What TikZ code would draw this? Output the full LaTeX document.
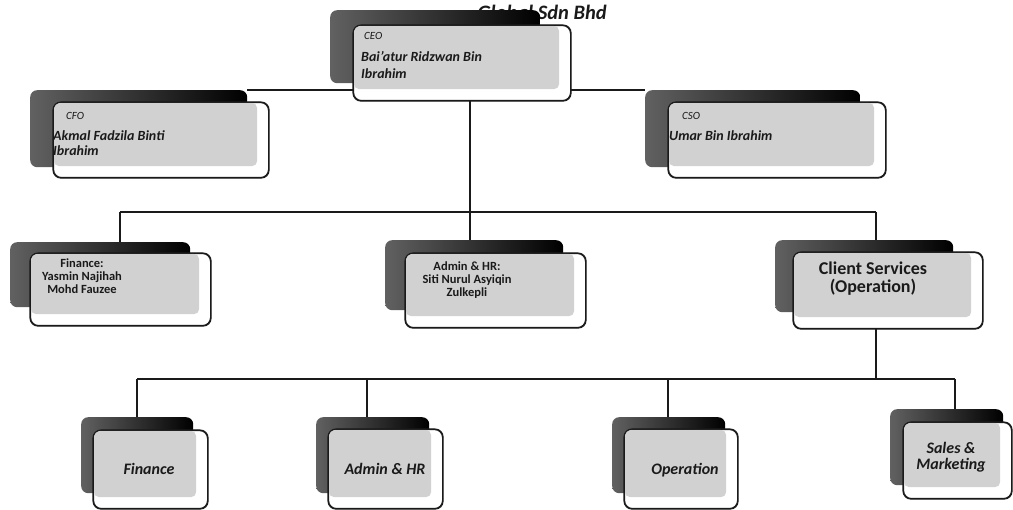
\documentclass[tikz,border=0pt]{standalone}
\usepackage{fontspec}
\setmainfont{Carlito}
\usetikzlibrary{backgrounds}
\definecolor{ink}{HTML}{1A1A1A}
\begin{document}
\begin{tikzpicture}[x=1pt,y=-1pt,
  shadowbox/.style={rounded corners=7pt, left color=black!62, right color=black, draw=none, inner sep=0pt},
  frontbox/.style={rounded corners=8pt, fill=white, draw=ink, line width=1.1pt, inner sep=0pt},
  innerfill/.style={fill=gray!36, rounded corners=5pt},
  conn/.style={draw=ink, line width=1.1pt},
  toplabel/.style={anchor=west, text=ink, inner sep=0pt, font=\fontsize{11}{12}\selectfont\itshape},
  topname/.style={anchor=north west, align=left, text=ink, inner sep=0pt, font=\fontsize{14}{17}\selectfont\bfseries\itshape},
  midname/.style={align=center, text=ink, inner sep=0pt, font=\fontsize{12.5}{13}\selectfont\bfseries},
  lowname/.style={align=center, text=ink, inner sep=0pt, font=\fontsize{16}{16}\selectfont\bfseries\itshape}]
\useasboundingbox (0,0) rectangle (1013,510);

\newcommand\orgcard[9]{%
  \node[shadowbox, anchor=north west, minimum width={#8-#6}, minimum height={#9-#7}] (#1s) at (#6,#7) {};
  \node[frontbox, anchor=north west, minimum width={#4-#2}, minimum height={#5-#3}] (#1) at (#2,#3) {};
  \fill[innerfill] ([shift={(1,1)}]#1.north west) rectangle ([shift={(-12,-12)}]#1.south east);
  \draw[rounded corners=8pt, draw=ink, line width=1.1pt] (#1.north west) rectangle (#1.south east);
}

% title (partly hidden by the CEO card)
\node[anchor=base east, text=ink, inner sep=0pt, font=\fontsize{20.5}{22}\selectfont\bfseries\itshape] (title) at (607,20) {Global Sdn Bhd};

% cards
\orgcard{ceo}{353}{25}{570}{100}{330}{10}{540}{83}
\orgcard{cfo}{53}{102}{268}{177}{30}{90}{247}{167}
\orgcard{cso}{668}{102}{885}{177}{645}{90}{860}{167}
\orgcard{fin}{30}{253}{210}{325}{10}{242}{190}{307}
\orgcard{adm}{405}{253}{585}{327}{385}{240}{563}{310}
\orgcard{cli}{793}{252}{982}{328}{775}{240}{953}{312}
\orgcard{finb}{93}{430}{207}{508}{81}{417}{193}{493}
\orgcard{admb}{328}{429}{442}{508}{316}{417}{429}{493}
\orgcard{opsb}{624}{429}{737}{508}{612}{417}{725}{493}
\orgcard{salb}{903}{422}{1011}{498}{890}{409}{1003}{485}

% connectors (behind the cards)
\coordinate (j1) at (470,212);
\coordinate (b2l) at (120,212);
\coordinate (b2r) at (876,212);
\coordinate (j3) at (876,379);
\coordinate (b3l) at (137,379);
\coordinate (b3r) at (955,379);
\coordinate (b3a) at (367,379);
\coordinate (b3o) at (668,379);
\begin{pgfonlayer}{background}
  \draw[conn] (cfos.north east) -- (csos.north west);
  \draw[conn] (ceo.south -| j1) -- (j1);
  \draw[conn] (b2l) -- (b2r);
  \draw[conn] (b2l) -- (b2l |- fins.north);
  \draw[conn] (j1) -- (j1 |- adms.north);
  \draw[conn] (b2r) -- (b2r |- clis.north);
  \draw[conn] (cli.south -| j3) -- (j3);
  \draw[conn] (b3l) -- (b3r);
  \draw[conn] (b3l) -- (b3l |- finbs.north);
  \draw[conn] (b3a) -- (b3a |- admbs.north);
  \draw[conn] (b3o) -- (b3o |- opsbs.north);
  \draw[conn] (b3r) -- (b3r |- salbs.north);
\end{pgfonlayer}

% texts
\node[toplabel] (ceot) at (364,36) {CEO};
\node[topname] (ceon) at (361,51) {Bai'atur Ridzwan Bin\\Ibrahim};
\node[toplabel] (cfot) at (66,116) {CFO};
\node[topname, font=\fontsize{14}{15}\selectfont\bfseries\itshape] (cfon) at (53,130) {Akmal Fadzila Binti\\Ibrahim};
\node[toplabel] (csot) at (682,116) {CSO};
\node[topname] (cson) at (669,130) {Umar Bin Ibrahim};

\node[midname] (fint) at (82,276) {Finance:\\Yasmin Najihah\\Mohd Fauzee};
\node[midname] (admt) at (467,280) {Admin \& HR:\\Siti Nurul Asyiqin\\Zulkepli};
\node[midname, font=\fontsize{18}{18}\selectfont\bfseries] (clit) at (873,279) {Client Services\\(Operation)};

\node[lowname] (finbt) at (149,469) {Finance};
\node[lowname] (admbt) at (385,469) {Admin \& HR};
\node[lowname] (opsbt) at (685,470) {Operation};
\node[lowname] (salbt) at (951,457) {Sales \&\\Marketing};
\end{tikzpicture}
\end{document}
